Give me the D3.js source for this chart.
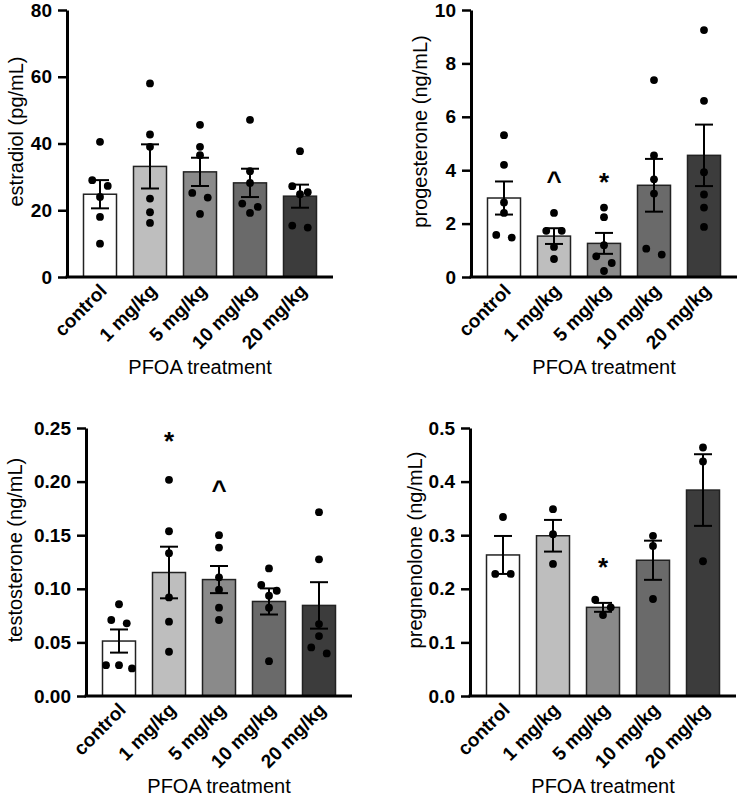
<!DOCTYPE html>
<html lang="en">
<head>
  <meta charset="UTF-8">
  <title>PFOA hormones</title>
  <script src="https://d3js.org/d3.v7.min.js"></script>
  <style>
    body { margin: 0; background: #fff; }
    text { font-family: "Liberation Sans", Arial, Helvetica, sans-serif; }
  </style>
</head>
<body>
<svg id="chart" width="742" height="796"></svg>
<script>
  const groups = ['control', '1 mg/kg', '5 mg/kg', '10 mg/kg', '20 mg/kg'];
  const barFills = ['#ffffff', '#bebebe', '#8a8a8a', '#6a6a6a', '#3c3c3c'];

  // individual animals per group
  const estradiol = [
    [40.5, 29, 27.3, 24, 18, 10],
    [58, 42.7, 39, 23.5, 19.4, 16.2],
    [45.6, 39, 36.5, 25.2, 23.8, 18.9],
    [47.1, 31.7, 28.2, 22, 21, 19.2],
    [37.7, 27.2, 25.4, 24.8, 15.4, 14.8]
  ];
  const progesterone = [
    [5.31, 4.2, 2.79, 2.4, 1.575, 1.475],
    [2.4, 1.73, 1.73, 1.125, 0.675],
    [2.6, 2.24, 1.19, 0.775, 0.525, 0.225],
    [7.375, 4.55, 3.66, 3.125, 1.06, 0.84],
    [9.25, 6.6, 3.925, 3.09, 2.6, 1.875]
  ];
  const testosterone = [
    [0.0856, 0.0709, 0.0678, 0.0288, 0.0288, 0.0257],
    [0.2017, 0.1537, 0.1332, 0.092, 0.0693, 0.0413],
    [0.15, 0.1385, 0.1107, 0.0992, 0.0824, 0.0709],
    [0.119, 0.1036, 0.0982, 0.0935, 0.0823, 0.0325],
    [0.1715, 0.1275, 0.0671, 0.0559, 0.0453, 0.0397]
  ];
  const pregnenolone = [
    [0.334, 0.2277, 0.2277],
    [0.3486, 0.3019, 0.2464],
    [0.1798, 0.1654, 0.151],
    [0.2988, 0.28, 0.181],
    [0.4636, 0.4377, 0.2514]
  ];

  const estradiolTicks = [0, 20, 40, 60, 80];
  const progesteroneTicks = [0, 2, 4, 6, 8, 10];
  const testosteroneTicks = [0, 0.05, 0.10, 0.15, 0.20, 0.25];
  const pregnenoloneTicks = [0, 0.1, 0.2, 0.3, 0.4, 0.5];

  // significance marks: group, symbol, height in data units
  const progesteroneMarks = [['1 mg/kg', '^', 3.8], ['5 mg/kg', '*', 3.75]];
  const testosteroneMarks = [['1 mg/kg', '*', 0.243], ['5 mg/kg', '^', 0.197]];
  const pregnenoloneMarks = [['5 mg/kg', '*', 0.25]];

  const svg = d3.select('#chart');
  const R = 3.9;

  function spreadDots(vals, y) {
    const pts = vals.map(v => ({ v, py: y(v), dx: 0 })).sort((a, b) => a.py - b.py);
    const rows = [];
    pts.forEach(p => {
      const last = rows[rows.length - 1];
      if (last && p.py - last[0].py < 7.9) last.push(p);
      else rows.push([p]);
    });
    rows.forEach(row => {
      const k = row.length;
      const gap = k === 2 ? 15.5 : 13;
      row.forEach((p, i) => { p.dx = (i - (k - 1) / 2) * gap; });
    });
    return pts;
  }

  function drawPanel(cfg) {
    const g = svg.append('g').attr('transform', `translate(${cfg.x},${cfg.top})`);
    const h = cfg.bottom - cfg.top;

    const x = d3.scaleBand().domain(groups).range([0, 266])
      .paddingInner(0.34).paddingOuter(0.33);
    const y = d3.scaleLinear().domain(d3.extent(cfg.ticks)).range([h, 0]);

    const stats = cfg.data.map((vals, i) => ({
      group: groups[i],
      fill: barFills[i],
      vals,
      mean: d3.mean(vals),
      sem: d3.deviation(vals) / Math.sqrt(vals.length)
    }));

    // bars
    g.selectAll('rect.bar').data(stats).join('rect')
      .attr('class', 'bar')
      .attr('x', d => x(d.group))
      .attr('width', x.bandwidth())
      .attr('y', d => y(d.mean))
      .attr('height', d => h - y(d.mean))
      .attr('fill', d => d.fill)
      .attr('stroke', '#222')
      .attr('stroke-width', 1.5);

    // error bars (mean +/- SEM)
    const eb = g.selectAll('g.err').data(stats).join('g').attr('class', 'err')
      .attr('transform', d => `translate(${x(d.group) + x.bandwidth() / 2},0)`)
      .attr('stroke', '#000').attr('stroke-width', 2);
    eb.append('line').attr('y1', d => y(d.mean - d.sem)).attr('y2', d => y(d.mean + d.sem));
    eb.append('line').attr('x1', -9).attr('x2', 9)
      .attr('y1', d => y(d.mean + d.sem)).attr('y2', d => y(d.mean + d.sem));
    eb.append('line').attr('x1', -9).attr('x2', 9)
      .attr('y1', d => y(d.mean - d.sem)).attr('y2', d => y(d.mean - d.sem));

    // individual points
    stats.forEach(s => {
      const cx = x(s.group) + x.bandwidth() / 2;
      g.append('g').selectAll('circle').data(spreadDots(s.vals, y)).join('circle')
        .attr('cx', d => cx + d.dx)
        .attr('cy', d => d.py)
        .attr('r', R)
        .attr('fill', '#000');
    });

    // significance marks
    g.selectAll('text.mark').data(cfg.marks || []).join('text')
      .attr('class', 'mark')
      .attr('x', d => x(d[0]) + x.bandwidth() / 2)
      .attr('y', d => y(d[2]) + 14)
      .attr('text-anchor', 'middle')
      .attr('font-size', 26)
      .attr('font-weight', 'bold')
      .text(d => d[1]);

    // y axis
    const ya = g.append('g')
      .call(d3.axisLeft(y).tickValues(cfg.ticks).tickFormat(d3.format(cfg.fmt))
        .tickSize(9).tickSizeOuter(0).tickPadding(6));
    ya.select('.domain').attr('stroke-width', 3).attr('stroke', '#000');
    ya.selectAll('.tick line').attr('stroke-width', 2.5).attr('stroke', '#000');
    ya.selectAll('.tick text').attr('font-size', 19).attr('font-weight', 'bold')
      .attr('fill', '#000').attr('font-family', '"Liberation Sans", Arial, sans-serif');

    // x axis
    const xa = g.append('g').attr('transform', `translate(0,${h})`)
      .call(d3.axisBottom(x).tickSize(0).tickSizeOuter(0).tickPadding(0));
    xa.select('.domain').attr('stroke-width', 3).attr('stroke', '#000')
      .attr('d', 'M-1.5,0H266');
    xa.selectAll('.tick text')
      .attr('font-size', 19).attr('font-weight', 'bold').attr('fill', '#000')
      .attr('font-family', '"Liberation Sans", Arial, sans-serif')
      .attr('text-anchor', 'end')
      .attr('y', 0).attr('dy', 0)
      .attr('transform', 'translate(8,15) rotate(-45)');

    // axis titles
    g.append('text')
      .attr('transform', `translate(${cfg.labelX},${h / 2 - 12}) rotate(-90)`)
      .attr('text-anchor', 'middle')
      .attr('dominant-baseline', 'central')
      .attr('font-size', 20)
      .text(cfg.label);

    g.append('text')
      .attr('x', 133).attr('y', h + 97)
      .attr('text-anchor', 'middle')
      .attr('font-size', 20)
      .text('PFOA treatment');
  }

  drawPanel({ x: 67, top: 10, bottom: 277, data: estradiol, ticks: estradiolTicks, fmt: 'd',
    label: 'estradiol (pg/mL)', labelX: -51 });
  drawPanel({ x: 471, top: 10, bottom: 277, data: progesterone, ticks: progesteroneTicks, fmt: 'd',
    label: 'progesterone (ng/mL)', labelX: -51.5, marks: progesteroneMarks });
  drawPanel({ x: 86, top: 428, bottom: 696, data: testosterone, ticks: testosteroneTicks, fmt: '.2f',
    label: 'testosterone (ng/mL)', labelX: -71, marks: testosteroneMarks });
  drawPanel({ x: 470, top: 428, bottom: 696, data: pregnenolone, ticks: pregnenoloneTicks, fmt: '.1f',
    label: 'pregnenolone (ng/mL)', labelX: -55, marks: pregnenoloneMarks });
</script>
</body>
</html>
